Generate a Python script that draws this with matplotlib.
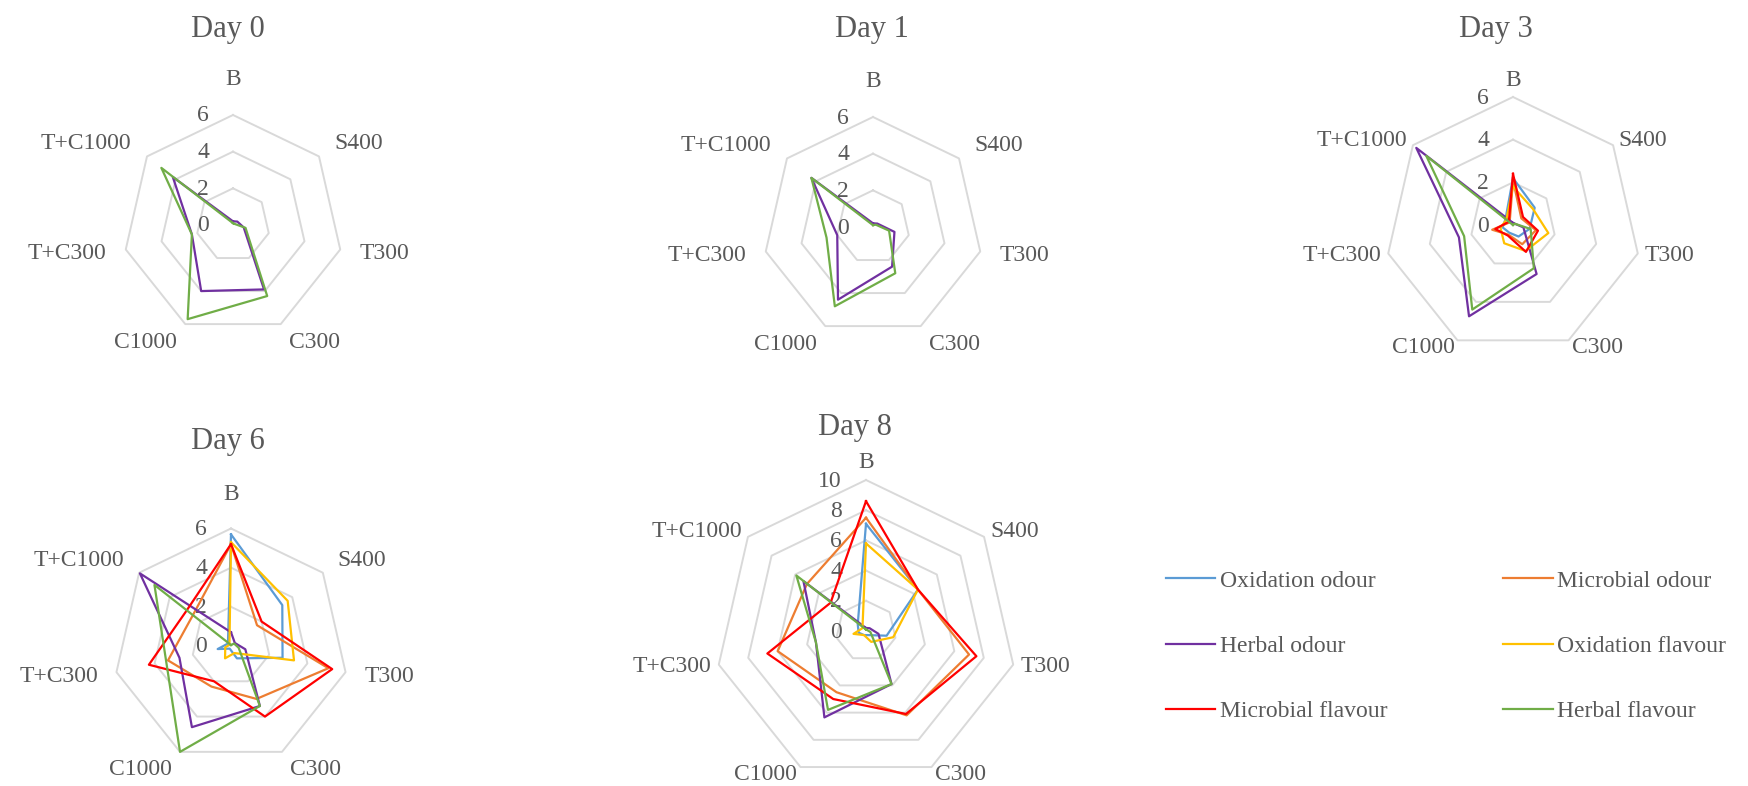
import numpy as np
import matplotlib.pyplot as plt
from matplotlib.lines import Line2D
from matplotlib.transforms import offset_copy

plt.rcParams['font.family'] = ['Liberation Serif', 'DejaVu Serif']

W, H = 1748, 786
TEXT = '#595959'
GRID = '#D9D9D9'

categories = ['B', 'S400', 'T300', 'C300', 'C1000', 'T+C300', 'T+C1000']
series_names = ['Oxidation odour', 'Microbial odour', 'Herbal odour',
                'Oxidation flavour', 'Microbial flavour', 'Herbal flavour']
series_colors = ['#5B9BD5', '#ED7D31', '#7030A0', '#FFC000', '#FF0000', '#70AD47']

# sensory scores per storage day, one row per attribute (order of series_names)
# None = attribute not scored on that day
day0 = [None,
        None,
        [0.2, 0.3, 0.6, 3.9, 4.0, 2.3, 4.2],
        None,
        None,
        [0.1, 0.1, 0.7, 4.3, 5.7, 2.3, 5.0]]

day1 = [None,
        None,
        [0.2, 0.3, 1.2, 2.4, 4.4, 2.0, 4.3],
        None,
        None,
        [0.1, 0.2, 0.9, 2.8, 4.8, 2.6, 4.3]]

day3 = [[2.2, 1.3, 0.8, 0.6, 0.4, 0.5, 0.45],
        [2.1, 0.5, 1.1, 1.0, 0.5, 1.0, 0.2],
        [0.1, 0.1, 0.5, 2.55, 4.75, 2.6, 5.8],
        [1.8, 1.2, 1.7, 1.35, 0.95, 0.6, 0.4],
        [2.4, 0.6, 1.2, 1.4, 0.55, 0.85, 0.25],
        [0.0, 0.1, 0.85, 2.25, 4.4, 2.35, 5.2]]

day6 = [[5.7, 3.35, 2.7, 0.7, 0.15, 0.7, 0.2],
        [5.2, 1.7, 5.1, 3.0, 2.3, 3.3, 2.5],
        [0.7, 0.25, 0.75, 3.4, 4.6, 2.7, 5.95],
        [5.3, 3.7, 3.3, 0.4, 0.7, 0.3, 0.1],
        [5.2, 2.0, 5.3, 4.0, 2.0, 4.3, 2.9],
        [0.05, 0.2, 0.4, 3.4, 6.0, 3.4, 5.0]]

day8 = [[7.1, 4.4, 1.4, 0.3, 0.3, 0.5, 0.7],
        [7.5, 4.4, 7.0, 6.2, 4.5, 6.0, 5.0],
        [0.2, 0.3, 0.85, 3.9, 6.35, 3.4, 5.3],
        [5.8, 4.4, 1.85, 0.8, 0.3, 0.85, 0.3],
        [8.6, 4.4, 7.5, 6.1, 5.0, 6.7, 3.0],
        [0.1, 0.1, 0.3, 3.9, 5.8, 3.4, 5.9]]

# title, data, axis max, tick step, centre (px), radius (px), label gap (px), title position (px)
panels = [
    ('Day 0', day0, 6, 2, (233, 225), 110, 20, (228, 29)),
    ('Day 1', day1, 6, 2, (873, 227), 110, 20, (872, 29)),
    ('Day 3', day3, 6, 2, (1513, 225), 128, 7, (1496, 29)),
    ('Day 6', day6, 6, 2, (231, 646), 117.5, 19, (228, 441)),
    ('Day 8', day8, 10, 2, (866, 631), 151, 8, (855, 427)),
]

fig = plt.figure(figsize=(W / 100, H / 100), dpi=100)

n = len(categories)
theta = np.arange(n) * 2 * np.pi / n
theta_closed = np.append(theta, theta[0])

for title, data, rmax, step, (cx, cy), rad, gap, (tx, ty) in panels:
    ax = fig.add_axes([(cx - rad) / W, (H - cy - rad) / H, 2 * rad / W, 2 * rad / H],
                      projection='polar')
    ax.set_theta_zero_location('N')
    ax.set_theta_direction(-1)
    ax.set_ylim(0, rmax)
    ax.grid(False)
    ax.set_xticks([])
    ax.set_yticks([])
    ax.spines['polar'].set_visible(False)
    ax.patch.set_visible(False)

    # heptagonal gridlines
    ticks = np.arange(0, rmax + step / 2, step)
    for v in ticks[1:]:
        ax.plot(theta_closed, [v] * (n + 1), color=GRID, lw=1.4, clip_on=False, zorder=1)

    # value labels along the B spoke
    for v in ticks:
        tr = offset_copy(ax.transData, fig=fig, x=-24, y=-1, units='dots')
        ax.text(0, v, f'{v:g}', transform=tr, ha='right', va='center',
                fontsize=17, color=TEXT)

    # category labels around the outer ring
    for ang, lab in zip(theta, categories):
        dx, dy = np.sin(ang), np.cos(ang)
        ha = 'center' if abs(dx) < 0.1 else ('left' if dx > 0 else 'right')
        ox, oy = gap * dx, gap * dy
        if dy > 0.9:
            va, oy = 'baseline', 1.5 * gap
        elif dy < -0.5:
            va, oy = 'top', gap * dy + 10
        else:
            va = 'center'
        tr = offset_copy(ax.transData, fig=fig, x=ox, y=oy, units='dots')
        ax.text(ang, rmax, lab, transform=tr, ha=ha, va=va, fontsize=17, color=TEXT)

    for vals, color in zip(data, series_colors):
        if vals is None:
            continue
        ax.plot(theta_closed, vals + vals[:1], color=color, lw=1.6,
                clip_on=False, zorder=3)

    fig.text(tx / W, 1 - ty / H, title, ha='center', va='center',
             fontsize=22, color=TEXT)

# legend laid out row by row, two entries per row
order = [0, 2, 4, 1, 3, 5]
handles = [Line2D([], [], color=series_colors[i], lw=1.6) for i in order]
labels = [series_names[i] for i in order]
fig.legend(handles, labels, ncol=2, loc='center',
           bbox_to_anchor=(1446 / W, 1 - 646 / H), frameon=False,
           fontsize=17, labelcolor=TEXT, handlelength=2.1, handletextpad=0.2,
           columnspacing=4.9, labelspacing=1.85, borderpad=0)

fig.savefig('out.png', dpi=100)
